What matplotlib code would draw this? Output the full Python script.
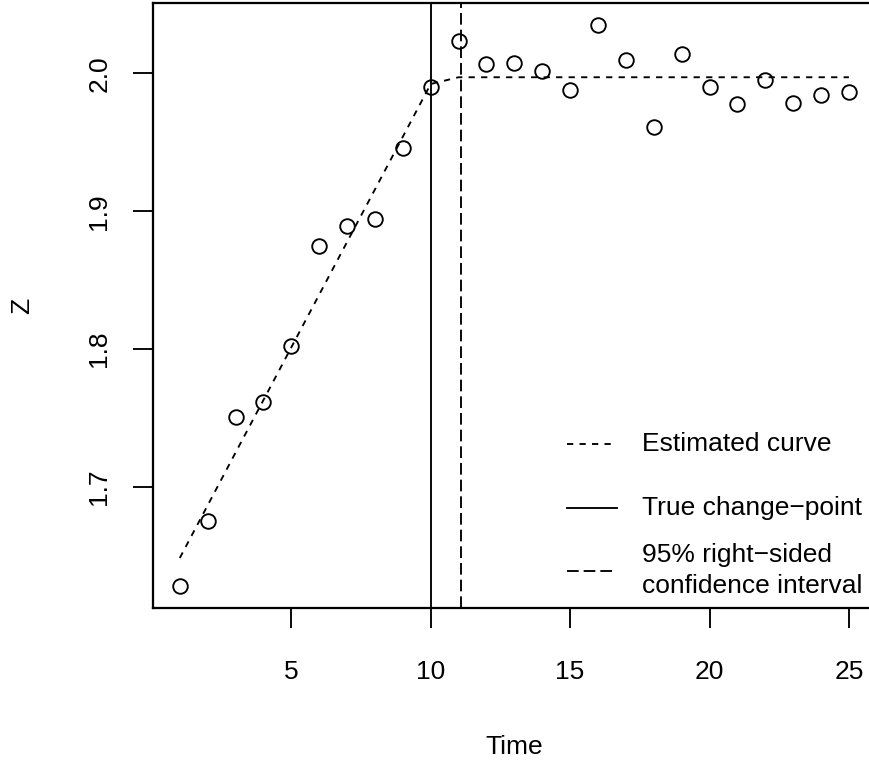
import matplotlib
matplotlib.use("Agg")
import matplotlib.pyplot as plt

plt.rcParams['font.family'] = ['Liberation Sans', 'DejaVu Sans']
plt.rcParams['font.size'] = 12.7
plt.rcParams['lines.scale_dashes'] = False

# observed series
time = list(range(1, 26))
z = [1.6284, 1.6752, 1.7505, 1.7614, 1.8023, 1.8747, 1.8891, 1.8947, 1.9455, 1.9903,
     2.0236, 2.0067, 2.0072, 2.0017, 1.9882, 2.0349, 2.0096, 1.9612, 2.0137, 1.9899,
     1.9780, 1.9952, 1.9787, 1.9843, 1.9867]

# fitted piecewise curve at each time point
fitted = [1.6486, 1.6868, 1.7250, 1.7631, 1.8013, 1.8395, 1.8777, 1.9158, 1.9540, 1.9922,
          1.9971, 1.9971, 1.9971, 1.9971, 1.9971, 1.9971, 1.9971, 1.9971, 1.9971, 1.9971,
          1.9971, 1.9971, 1.9971, 1.9971, 1.9971]

true_cp = 10
ci_upper = 11.07

xticks = [5, 10, 15, 20, 25]
yticks = [1.7, 1.8, 1.9, 2.0]

LW = 0.9
FS = 12.7
est_dash = (0, (3.0, 3.0))
ci_dash = (0, (5.6, 2.4))

fig = plt.figure(figsize=(869 / 150, 764 / 150), dpi=150)
ax = fig.add_axes([0.1761, 0.2038, 0.8316, 0.7927])

ax.plot(time, z, linestyle='none', marker='o', markersize=7,
        markerfacecolor='none', markeredgecolor='black', markeredgewidth=LW)
ax.plot(time, fitted, color='black', lw=LW, linestyle=est_dash)
ax.axvline(true_cp, color='black', lw=LW)
ax.axvline(ci_upper, color='black', lw=LW, linestyle=ci_dash)

# R style axis ranges (4% padding)
xpad = 0.04 * (max(time) - min(time))
ypad = 0.04 * (max(z) - min(z))
ax.set_xlim(min(time) - xpad, max(time) + xpad)
ax.set_ylim(min(z) - ypad, max(z) + ypad)

ax.set_xticks(xticks)
ax.set_xticklabels([str(t) for t in xticks])
ax.set_yticks(yticks)
ax.set_yticklabels([f'{t:.1f}' for t in yticks], rotation=90, va='center')
ax.tick_params(axis='both', direction='out', length=9.6, width=LW, labelsize=FS)
ax.tick_params(axis='x', pad=15)
ax.tick_params(axis='y', pad=10.5)
for sp in ax.spines.values():
    sp.set_linewidth(LW * 1.2)

ax.set_xlabel('Time', fontsize=FS, va='center')
ax.xaxis.set_label_coords(0.5, -0.2285)
ax.set_ylabel('Z', fontsize=FS, va='center')
ax.yaxis.set_label_coords(-0.1805, 0.5)

# legend, drawn by hand like R's legend(bty = "n")
entries = [
    (est_dash, 'Estimated curve', 0.2713),
    ('-', 'True change\u2212point', 0.1656),
    (ci_dash, '95% right\u2212sided\nconfidence interval', 0.0621),
]
for ls, label, yy in entries:
    ax.plot([0.5724, 0.6424], [yy, yy], transform=ax.transAxes, color='black',
            lw=LW, linestyle=ls, clip_on=False)
    ax.text(0.6762, yy, label, transform=ax.transAxes, ha='left', va='center',
            fontsize=FS, linespacing=1.36)

fig.savefig('out.png', dpi=150)
